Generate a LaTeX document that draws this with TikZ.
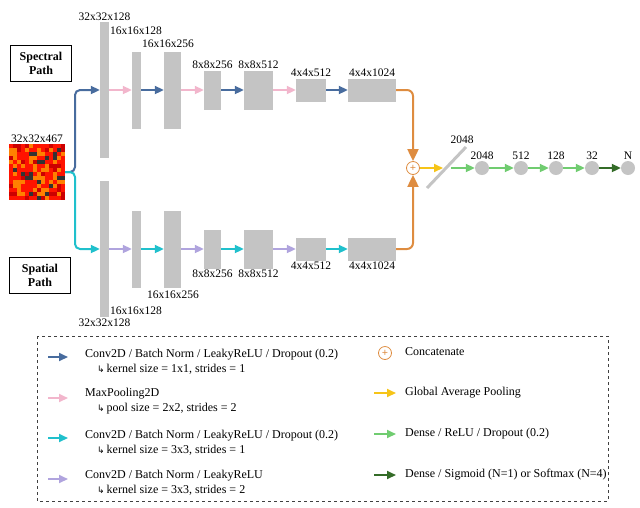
\documentclass[tikz,border=0pt]{standalone}
\usepackage{fontspec}
\setmainfont{Liberation Serif}
\newfontfamily\symfont{DejaVu Sans}
\usetikzlibrary{arrows.meta}

\definecolor{convA}{RGB}{72,108,158}
\definecolor{poolP}{RGB}{242,182,204}
\definecolor{convC}{RGB}{32,192,204}
\definecolor{convL}{RGB}{176,164,222}
\definecolor{catO}{RGB}{222,140,64}
\definecolor{gapY}{RGB}{246,196,24}
\definecolor{denseG}{RGB}{112,204,112}
\definecolor{outG}{RGB}{52,108,40}
\definecolor{barG}{RGB}{196,196,196}

\newcommand{\hook}{{\symfont\fontsize{9}{10}\selectfont ↳}\,}

\tikzset{
  bar/.style={rectangle, fill=barG, inner sep=0pt},
  unit/.style={circle, fill=barG, minimum size=14pt, inner sep=0pt},
  lbl/.style={font=\fontsize{11.5}{12}\selectfont, inner sep=1pt},
  path box/.style={draw, thick, font=\bfseries\fontsize{12}{14}\selectfont, align=center, minimum width=61pt, minimum height=36pt},
  flow/.style={line width=2pt, -{Triangle[length=9pt,width=8pt]}},
  cat sign/.style={circle, draw=catO, thick, minimum size=13pt, inner sep=0pt, text=catO, font=\bfseries\fontsize{11}{11}\selectfont},
  leg/.style={font=\fontsize{12}{13}\selectfont, anchor=west, inner sep=0pt, align=left}
}

\begin{document}
\begin{tikzpicture}[x=1pt,y=-1pt]
\useasboundingbox (0,0) rectangle (640,507);

    % input patch
    \node[inner sep=0pt, minimum size=56pt, fill=red!85!orange] (img) at (37,172) {};
    \pgfmathsetseed{7}
    \foreach \i in {0,...,13}{
      \foreach \j in {0,...,13}{
        \pgfmathsetmacro{\r}{rnd}
        \pgfmathtruncatemacro{\c}{ifthenelse(\r<0.08,1,ifthenelse(\r<0.35,2,ifthenelse(\r<0.5,3,0)))}
        \ifnum\c=1 \fill[black!80] (9+4*\i,144+4*\j) rectangle ++(4,4);\fi
        \ifnum\c=2 \fill[orange] (9+4*\i,144+4*\j) rectangle ++(4,4);\fi
        \ifnum\c=3 \fill[red!80!black] (9+4*\i,144+4*\j) rectangle ++(4,4);\fi
      }
    }
    \node[lbl, above] at (img.north) {32x32x467};

    \node[path box] (spec) at (41,63) {Spectral\\Path};
    \node[path box] (spat) at (40,275) {Spatial\\Path};

    % spectral path
    \node[bar, minimum width=9pt, minimum height=136pt] (s1) at (104.5,90) {};
    \node[bar, minimum width=9pt, minimum height=77pt] (s2) at (136.5,90) {};
    \node[bar, minimum width=17pt, minimum height=77pt] (s3) at (172.5,90) {};
    \node[bar, minimum width=17pt, minimum height=39pt] (s4) at (212.5,90) {};
    \node[bar, minimum width=29pt, minimum height=39pt] (s5) at (258.5,90) {};
    \node[bar, minimum width=30pt, minimum height=23pt] (s6) at (311,90) {};
    \node[bar, minimum width=48pt, minimum height=23pt] (s7) at (372,90) {};

    \node[lbl, above] at (s1.north) {32x32x128};
    \node[lbl, anchor=west] at (109,31) {16x16x128};
    \node[lbl, anchor=west] at (141,44) {16x16x256};
    \node[lbl, above] at (s4.north) {8x8x256};
    \node[lbl, above] at (s5.north) {8x8x512};
    \node[lbl, above] at (s6.north) {4x4x512};
    \node[lbl, above] at (s7.north) {4x4x1024};

    % spatial path
    \node[bar, minimum width=9pt, minimum height=136pt] (t1) at (104.5,249) {};
    \node[bar, minimum width=9pt, minimum height=77pt] (t2) at (136.5,249) {};
    \node[bar, minimum width=17pt, minimum height=77pt] (t3) at (172.5,249) {};
    \node[bar, minimum width=17pt, minimum height=39pt] (t4) at (212.5,249) {};
    \node[bar, minimum width=29pt, minimum height=39pt] (t5) at (258.5,249) {};
    \node[bar, minimum width=30pt, minimum height=23pt] (t6) at (311,249) {};
    \node[bar, minimum width=48pt, minimum height=23pt] (t7) at (372,249) {};

    \node[lbl, below] at (t1.south) {32x32x128};
    \node[lbl, anchor=west] at (109,311) {16x16x128};
    \node[lbl, anchor=west] at (146,295) {16x16x256};
    \node[lbl, below] at (t4.south) {8x8x256};
    \node[lbl, below] at (t5.south) {8x8x512};
    \node[lbl, below] at (t6.south) {4x4x512};
    \node[lbl, below] at (t7.south) {4x4x1024};

    % branches
    \draw[flow, convA, rounded corners=5pt] (img.east) -- (75,172) |- (s1.west);
    \draw[flow, convC, rounded corners=5pt] (img.east) -- (75,172) |- (t1.west);

    \draw[flow, poolP] (s1) -- (s2);
    \draw[flow, convA] (s2) -- (s3);
    \draw[flow, poolP] (s3) -- (s4);
    \draw[flow, convA] (s4) -- (s5);
    \draw[flow, poolP] (s5) -- (s6);
    \draw[flow, convA] (s6) -- (s7);

    \draw[flow, convL] (t1) -- (t2);
    \draw[flow, convC] (t2) -- (t3);
    \draw[flow, convL] (t3) -- (t4);
    \draw[flow, convC] (t4) -- (t5);
    \draw[flow, convL] (t5) -- (t6);
    \draw[flow, convC] (t6) -- (t7);

    % merge and dense head
    \node[cat sign] (cat) at (413,168) {+};
    \draw[flow, catO, rounded corners=6pt, -{Triangle[length=12pt,width=11pt]}] (s7.east) -| (cat.north);
    \draw[flow, catO, rounded corners=6pt, -{Triangle[length=12pt,width=11pt]}] (t7.east) -| (cat.south);

    \coordinate (gapA) at (427,188);
    \coordinate (gapB) at (466,147);
    \draw[barG, line width=3pt] (gapA) -- (gapB);
    \node[lbl, above] at (462,145) {2048};
    \coordinate (gapIn) at (443,168);
    \coordinate (gapOut) at (451,168);
    \draw[flow, gapY] (cat.east) -- (gapIn);

    \node[unit] (d1) at (482,168) {};
    \node[unit] (d2) at (521,168) {};
    \node[unit] (d3) at (556,168) {};
    \node[unit] (d4) at (592,168) {};
    \node[unit] (d5) at (628,168) {};
    \foreach \n/\t in {d1/2048,d2/512,d3/128,d4/32,d5/N}
      \node[lbl, above] at (\n.north) {\t};

    \draw[flow, denseG] (gapOut) -- (d1);
    \draw[flow, denseG] (d1) -- (d2);
    \draw[flow, denseG] (d2) -- (d3);
    \draw[flow, denseG] (d3) -- (d4);
    \draw[flow, outG] (d4) -- (d5);

    % legend
    \draw[dashed, thick, black!75] (37,336) rectangle (608,501);
    \foreach \y/\c in {357/convA,398/poolP,438/convC,479/convL}{
      \coordinate (la\y) at (48,\y);
      \coordinate (lb\y) at (68,\y);
      \draw[flow, \c] (la\y) -- (lb\y);
    }
    \node[leg] at (85,355) {Conv2D / Batch Norm / LeakyReLU / Dropout (0.2)};
    \node[leg] at (97,369) {\hook kernel size = 1x1, strides = 1};
    \node[leg] at (85,394) {MaxPooling2D};
    \node[leg] at (97,409) {\hook pool size = 2x2, strides = 2};
    \node[leg] at (85,436) {Conv2D / Batch Norm / LeakyReLU / Dropout (0.2)};
    \node[leg] at (97,450) {\hook kernel size = 3x3, strides = 1};
    \node[leg] at (85,476) {Conv2D / Batch Norm / LeakyReLU};
    \node[leg] at (97,490) {\hook kernel size = 3x3, strides = 2};

    \node[cat sign] (lcat) at (385,353) {+};
    \node[leg] at (405,352) {Concatenate};
    \foreach \y/\c in {393/gapY,434/denseG,475/outG}{
      \coordinate (ra\y) at (374,\y);
      \coordinate (rb\y) at (396,\y);
      \draw[flow, \c] (ra\y) -- (rb\y);
    }
    \node[leg] at (405,393) {Global Average Pooling};
    \node[leg] at (405,434) {Dense / ReLU / Dropout (0.2)};
    \node[leg] at (405,475) {Dense / Sigmoid (N=1) or Softmax (N=4)};

\end{tikzpicture}
\end{document}
